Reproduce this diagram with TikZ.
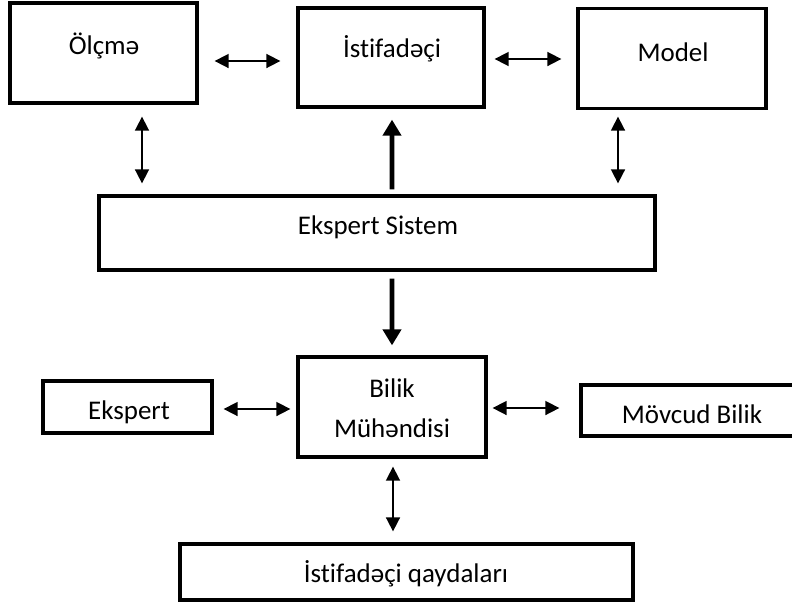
\documentclass[tikz,border=0pt]{standalone}
\usepackage{fontspec}
\setmainfont{Carlito}[Ligatures=NoCommon]
\usetikzlibrary{arrows.meta,calc}

\begin{document}
\begin{tikzpicture}[x=0.03cm, y=-0.03cm,
  box/.style={draw, rectangle, line width=2.8pt, inner sep=0pt},
  lbl/.style={anchor=base, inner sep=0pt, font=\fontsize{23}{28}\selectfont},
  biarr/.style={line width=1.4pt, {Triangle[length=0.42cm,width=0.42cm]}-{Triangle[length=0.42cm,width=0.42cm]}},
  bigarr/.style={line width=4.2pt, -{Triangle[length=0.48cm,width=0.54cm]}}]
% coordinates in pixels of the 792x602 figure, y downwards
\useasboundingbox (0,0) rectangle (792,602);
\node[box, minimum width=5.61cm, minimum height=3cm] (olcme) at (103.5,53) {};
\node[box, minimum width=5.58cm, minimum height=2.97cm] (istif) at (391,57.5) {};
\node[box, minimum width=5.64cm, minimum height=3cm] (model) at (672,58.5) {};
\node[box, minimum width=16.68cm, minimum height=2.22cm] (sistem) at (377,233) {};
\node[box, minimum width=5.64cm, minimum height=3cm] (bilik) at (392,407) {};
\node[box, minimum width=5.07cm, minimum height=1.56cm] (ekspert) at (127.5,407) {};
\node[box, minimum width=6.66cm, minimum height=1.53cm] (movcud) at (692,410.5) {};
\node[box, minimum width=13.59cm, minimum height=1.68cm] (qayda) at (406.5,572) {};
\node[lbl] (olcme-t) at (104,54) {Ölçmə};
\node[lbl] (istif-t) at (392,57) {İstifadəçi};
\node[lbl] (model-t) at (673,61) {Model};
\node[lbl] (sistem-t) at (378,234) {Ekspert Sistem};
\node[lbl] (bilik-t1) at (392,397) {Bilik};
\node[lbl] (bilik-t2) at (392,437) {Mühəndisi};
\node[lbl] (ekspert-t) at (129,419) {Ekspert};
\node[lbl] (movcud-t) at (692,423) {Mövcud Bilik};
\node[lbl] (qayda-t) at (406,582) {İstifadəçi qaydaları};
\draw[biarr, shorten <=0.48cm, shorten >=0.48cm] ([yshift=-0.24cm]olcme.east) -- ([yshift=-0.105cm]istif.west);
\draw[biarr, shorten <=0.27cm, shorten >=0.45cm] ([yshift=-0.045cm]istif.east) -- ([yshift=-0.015cm]model.west);
\draw[biarr, shorten <=0.36cm, shorten >=0.33cm] ([xshift=1.155cm]olcme.south) -- ([xshift=-7.05cm]sistem.north);
\draw[bigarr, shorten <=0.15cm, shorten >=0.33cm] ([xshift=0.45cm]sistem.north) -- ([xshift=0.03cm]istif.south);
\draw[biarr, shorten <=0.195cm, shorten >=0.33cm] ([xshift=-1.62cm]model.south) -- ([xshift=7.23cm]sistem.north);
\draw[bigarr, shorten <=0.21cm, shorten >=0.3cm] ([xshift=0.45cm]sistem.south) -- (bilik.north);
\draw[biarr, shorten <=0.3cm, shorten >=0.18cm] ([yshift=-0.06cm]ekspert.east) -- ([yshift=-0.06cm]bilik.west);
\draw[biarr, shorten <=0.15cm, shorten >=0.6cm] ([yshift=-0.03cm]bilik.east) -- ([yshift=0.075cm]movcud.west);
\draw[biarr, shorten <=0.24cm, shorten >=0.33cm] ([xshift=0.03cm]bilik.south) -- ([xshift=-0.405cm]qayda.north);
\end{tikzpicture}
\end{document}
